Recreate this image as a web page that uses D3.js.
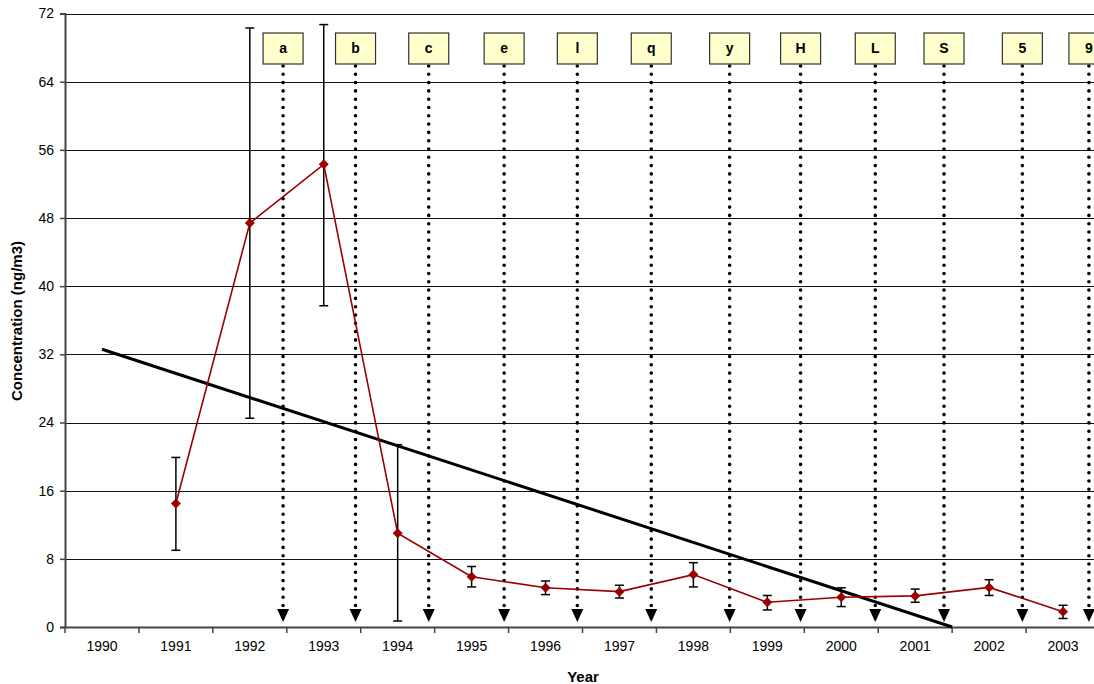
<!DOCTYPE html>
<html>
<head>
<meta charset="utf-8">
<script src="https://cdn.jsdelivr.net/npm/d3@7/dist/d3.min.js"></script>
<style>
  html, body { margin: 0; padding: 0; background: #fff; }
  svg { display: block; font-family: Arial, "Liberation Sans", sans-serif; }
</style>
</head>
<body>
<svg id="chart" width="1094" height="684"></svg>
<script>
// ---- data ----
const years = ["1990","1991","1992","1993","1994","1995","1996","1997","1998","1999","2000","2001","2002","2003"];
const concYears = ["1991","1992","1993","1994","1995","1996","1997","1998","1999","2000","2001","2002","2003"];
const concValues = [14.5, 47.4, 54.3, 11.0, 5.9, 4.6, 4.15, 6.15, 2.9, 3.5, 3.65, 4.65, 1.8];
const errLow  = [9.0, 24.5, 37.7, 0.7, 4.7, 3.8, 3.4, 4.7, 2.0, 2.4, 2.9, 3.7, 1.0];
const errHigh = [19.9, 70.3, 70.7, 21.4, 7.1, 5.4, 4.9, 7.55, 3.7, 4.6, 4.45, 5.55, 2.55];
const yTicks = [0, 8, 16, 24, 32, 40, 48, 56, 64, 72];
const eventLabels = ["a","b","c","e","l","q","y","H","L","S","5","9"];
const eventTimes  = [1992.95, 1993.93, 1994.92, 1995.94, 1996.93, 1997.93, 1998.99, 1999.95, 2000.96, 2001.89, 2002.95, 2003.85];
const trendTimes  = [1990.5, 2002.0];
const trendValues = [32.6, 0];

(function () {
const svg = d3.select("#chart");
const mLeft = 65, mRight = 1100, mTop = 13.5, mBottom = 627;

const x = d3.scaleBand().domain(years).range([mLeft, mRight]);
const xt = d3.scaleLinear().domain([1990, 2004]).range([mLeft, mRight]);
const y = d3.scaleLinear().domain([0, 72]).range([mBottom, mTop]);

// gridlines
svg.append("g").selectAll("line").data(yTicks.filter(d => d > 0)).join("line")
  .attr("x1", mLeft).attr("x2", mRight)
  .attr("y1", d => Math.round(y(d)) + 0.5).attr("y2", d => Math.round(y(d)) + 0.5)
  .attr("stroke", "#111").attr("stroke-width", 1);

// y axis
const yAxis = svg.append("g").attr("transform", `translate(${mLeft},0)`)
  .call(d3.axisLeft(y).tickValues(yTicks).tickSize(5).tickPadding(6));
yAxis.select(".domain").attr("stroke", "#444").attr("stroke-width", 2);
yAxis.selectAll(".tick line").attr("stroke", "#444").attr("stroke-width", 1.5);
yAxis.selectAll("text").attr("font-size", 14).attr("fill", "#000")
  .attr("font-family", "Arial, 'Liberation Sans', sans-serif");

// x axis
const xAxis = svg.append("g").attr("transform", `translate(0,${mBottom})`)
  .call(d3.axisBottom(x).tickSize(0).tickPadding(14));
xAxis.select(".domain").attr("stroke", "#444").attr("stroke-width", 2);
xAxis.selectAll("text").attr("font-size", 14).attr("fill", "#000")
  .attr("font-family", "Arial, 'Liberation Sans', sans-serif");
// ticks between categories
svg.append("g").selectAll("line").data(d3.range(years.length + 1)).join("line")
  .attr("x1", i => mLeft + i * x.step()).attr("x2", i => mLeft + i * x.step())
  .attr("y1", mBottom).attr("y2", mBottom + 6)
  .attr("stroke", "#444").attr("stroke-width", 1.5);

// axis titles
svg.append("text").attr("x", 583).attr("y", 682)
  .attr("text-anchor", "middle").attr("font-weight", "bold").attr("font-size", 15)
  .text("Year");
svg.append("text").attr("transform", "translate(22,321) rotate(-90)")
  .attr("text-anchor", "middle").attr("font-weight", "bold").attr("font-size", 15)
  .text("Concentration (ng/m3)");

// event markers: dotted lines with arrowheads and labels
const ev = svg.append("g").selectAll("g").data(eventLabels.map((l, i) => ({l, t: eventTimes[i]}))).join("g")
  .attr("transform", d => `translate(${xt(d.t)},0)`);
ev.append("line").attr("x1", 0).attr("x2", 0).attr("y1", 66).attr("y2", 606)
  .attr("stroke", "#000").attr("stroke-width", 3.6)
  .attr("stroke-linecap", "round").attr("stroke-dasharray", "0 8.3");
ev.append("path").attr("d", "M-6,609 L6,609 L0,622 Z").attr("fill", "#000");
ev.append("rect").attr("x", -20).attr("y", 33).attr("width", 40).attr("height", 31)
  .attr("fill", "#ffffcc").attr("stroke", "#333").attr("stroke-width", 1.2);
ev.append("text").attr("x", 0).attr("y", 52.5).attr("text-anchor", "middle")
  .attr("font-weight", "bold").attr("font-size", 14).text(d => d.l);

// trend line
svg.append("line")
  .attr("x1", xt(trendTimes[0])).attr("y1", y(trendValues[0]))
  .attr("x2", xt(trendTimes[1])).attr("y2", y(trendValues[1]))
  .attr("stroke", "#000").attr("stroke-width", 3);

// error bars
const cx = d => x(d) + x.bandwidth() / 2;
const eb = svg.append("g").selectAll("g").data(concYears.map((yr, i) => ({yr, lo: errLow[i], hi: errHigh[i]}))).join("g");
eb.append("line").attr("x1", d => cx(d.yr)).attr("x2", d => cx(d.yr))
  .attr("y1", d => y(d.lo)).attr("y2", d => y(d.hi)).attr("stroke", "#000").attr("stroke-width", 1.5);
eb.append("line").attr("x1", d => cx(d.yr) - 4.5).attr("x2", d => cx(d.yr) + 4.5)
  .attr("y1", d => y(d.lo)).attr("y2", d => y(d.lo)).attr("stroke", "#000").attr("stroke-width", 1.5);
eb.append("line").attr("x1", d => cx(d.yr) - 4.5).attr("x2", d => cx(d.yr) + 4.5)
  .attr("y1", d => y(d.hi)).attr("y2", d => y(d.hi)).attr("stroke", "#000").attr("stroke-width", 1.5);

// concentration series
const pts = concYears.map((yr, i) => ({yr, v: concValues[i]}));
svg.append("path").datum(pts)
  .attr("d", d3.line().x(d => cx(d.yr)).y(d => y(d.v)))
  .attr("fill", "none").attr("stroke", "#990000").attr("stroke-width", 1.6);
svg.append("g").selectAll("path").data(pts).join("path")
  .attr("transform", d => `translate(${cx(d.yr)},${y(d.v)})`)
  .attr("d", "M0,-5 L5,0 L0,5 L-5,0 Z")
  .attr("fill", "#990000");
})();
</script>
</body>
</html>
